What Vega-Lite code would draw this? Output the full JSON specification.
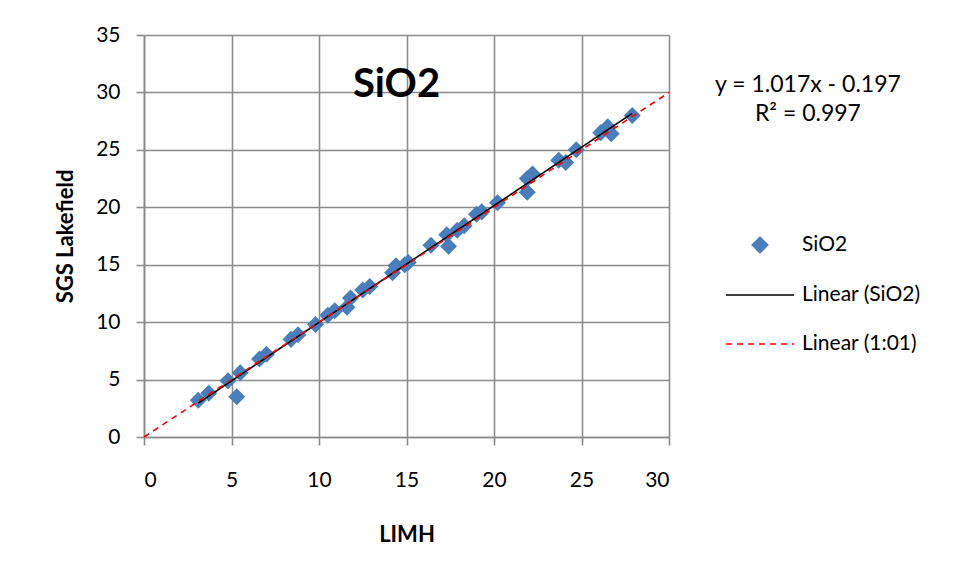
{
  "$schema": "https://vega.github.io/schema/vega-lite/v6.json",
  "width": 525,
  "height": 402,
  "autosize": {"type": "none"},
  "padding": {"left": 144, "top": 35, "right": 287, "bottom": 140},
  "background": "white",
  "datasets": {
    "samples": [
      {"limh": 3.1, "sgs": 3.2}, {"limh": 3.7, "sgs": 3.8}, {"limh": 4.8, "sgs": 4.9},
      {"limh": 5.5, "sgs": 5.6}, {"limh": 5.3, "sgs": 3.5}, {"limh": 6.6, "sgs": 6.8},
      {"limh": 7.0, "sgs": 7.2}, {"limh": 8.4, "sgs": 8.5}, {"limh": 8.8, "sgs": 8.9},
      {"limh": 9.8, "sgs": 9.8}, {"limh": 10.5, "sgs": 10.6}, {"limh": 10.9, "sgs": 11.0},
      {"limh": 11.6, "sgs": 11.3}, {"limh": 11.8, "sgs": 12.1}, {"limh": 12.5, "sgs": 12.8},
      {"limh": 12.9, "sgs": 13.1}, {"limh": 14.2, "sgs": 14.3}, {"limh": 14.4, "sgs": 14.9},
      {"limh": 14.9, "sgs": 15.0}, {"limh": 15.1, "sgs": 15.2}, {"limh": 16.4, "sgs": 16.7},
      {"limh": 17.3, "sgs": 17.6}, {"limh": 17.4, "sgs": 16.6}, {"limh": 17.9, "sgs": 18.0},
      {"limh": 18.3, "sgs": 18.4}, {"limh": 19.0, "sgs": 19.4}, {"limh": 19.3, "sgs": 19.6},
      {"limh": 20.2, "sgs": 20.4}, {"limh": 21.9, "sgs": 22.5}, {"limh": 21.9, "sgs": 21.3},
      {"limh": 22.2, "sgs": 22.9}, {"limh": 23.7, "sgs": 24.1}, {"limh": 24.1, "sgs": 23.9},
      {"limh": 24.7, "sgs": 25.0}, {"limh": 26.1, "sgs": 26.5}, {"limh": 26.5, "sgs": 27.0},
      {"limh": 26.7, "sgs": 26.4}, {"limh": 27.9, "sgs": 28.0}
    ],
    "fit": [
      {"limh": 3.1, "sgs": 2.956},
      {"limh": 27.9, "sgs": 28.177}
    ],
    "oneToOne": [
      {"limh": 0, "sgs": 0},
      {"limh": 30, "sgs": 30}
    ]
  },
  "config": {
    "font": "Lato",
    "view": {"stroke": null},
    "axis": {
      "grid": true,
      "gridColor": "#8c8c8c",
      "gridWidth": 1.6,
      "domainColor": "#8c8c8c",
      "domainWidth": 1.6,
      "tickColor": "#8c8c8c",
      "tickSize": 8,
      "tickWidth": 1.6,
      "labelFont": "Lato",
      "labelFontSize": 21,
      "labelColor": "black",
      "titleFont": "Lato",
      "titleFontSize": 22,
      "titleFontWeight": "bold",
      "titleColor": "black"
    },
    "legend": {
      "orient": "none",
      "legendX": 581,
      "legendY": 175,
      "title": null,
      "labelFont": "Lato",
      "labelFontSize": 21,
      "labelColor": "black",
      "labelOffset": 7,
      "symbolSize": 4624,
      "symbolType": "stroke",
      "rowPadding": 4
    }
  },
  "layer": [
    {
      "data": {"name": "samples"},
      "mark": {"type": "point", "shape": "diamond", "filled": true, "size": 290, "opacity": 1},
      "encoding": {
        "x": {
          "field": "limh", "type": "quantitative", "title": "LIMH",
          "scale": {"domain": [0, 30], "nice": false, "zero": true},
          "axis": {"values": [0, 5, 10, 15, 20, 25, 30], "labelPadding": 24, "titlePadding": 34}
        },
        "y": {
          "field": "sgs", "type": "quantitative", "title": "SGS Lakefield",
          "scale": {"domain": [0, 35], "nice": false, "zero": true},
          "axis": {"values": [0, 5, 10, 15, 20, 25, 30, 35], "labelPadding": 16, "titlePadding": 18}
        },
        "color": {
          "datum": "SiO2",
          "type": "nominal",
          "scale": {
            "domain": ["SiO2", "Linear (SiO2)", "Linear (1:01)"],
            "range": ["#4a7ebb", "black", "red"]
          },
          "legend": {
            "encode": {
              "symbols": {
                "update": {
                  "shape": {"signal": "datum.value === 'SiO2' ? 'diamond' : 'stroke'"},
                  "size": {"signal": "datum.value === 'SiO2' ? 240 : 4624"},
                  "fill": {"signal": "datum.value === 'SiO2' ? '#4a7ebb' : 'transparent'"},
                  "stroke": {"signal": "datum.value === 'SiO2' ? 'transparent' : (datum.value === 'Linear (SiO2)' ? 'black' : 'red')"},
                  "strokeDash": {"signal": "datum.value === 'Linear (1:01)' ? [6, 5] : [1, 0]"},
                  "strokeWidth": {"value": 1.6},
                  "opacity": {"value": 1}
                }
              }
            }
          }
        }
      }
    },
    {
      "data": {"name": "fit"},
      "mark": {"type": "line", "strokeWidth": 1.6},
      "encoding": {
        "x": {"field": "limh", "type": "quantitative"},
        "y": {"field": "sgs", "type": "quantitative"},
        "color": {
          "datum": "Linear (SiO2)", "type": "nominal",
          "legend": {
            "encode": {
              "symbols": {
                "update": {
                  "shape": {"signal": "datum.value === 'SiO2' ? 'diamond' : 'stroke'"},
                  "size": {"signal": "datum.value === 'SiO2' ? 240 : 4624"},
                  "fill": {"signal": "datum.value === 'SiO2' ? '#4a7ebb' : 'transparent'"},
                  "stroke": {"signal": "datum.value === 'SiO2' ? 'transparent' : (datum.value === 'Linear (SiO2)' ? 'black' : 'red')"},
                  "strokeDash": {"signal": "datum.value === 'Linear (1:01)' ? [6, 5] : [1, 0]"},
                  "strokeWidth": {"value": 1.6},
                  "opacity": {"value": 1}
                }
              }
            }
          }
        }
      }
    },
    {
      "data": {"name": "oneToOne"},
      "mark": {"type": "line", "strokeWidth": 1.6, "strokeDash": [6, 5]},
      "encoding": {
        "x": {"field": "limh", "type": "quantitative"},
        "y": {"field": "sgs", "type": "quantitative"},
        "color": {
          "datum": "Linear (1:01)", "type": "nominal",
          "legend": {
            "encode": {
              "symbols": {
                "update": {
                  "shape": {"signal": "datum.value === 'SiO2' ? 'diamond' : 'stroke'"},
                  "size": {"signal": "datum.value === 'SiO2' ? 240 : 4624"},
                  "fill": {"signal": "datum.value === 'SiO2' ? '#4a7ebb' : 'transparent'"},
                  "stroke": {"signal": "datum.value === 'SiO2' ? 'transparent' : (datum.value === 'Linear (SiO2)' ? 'black' : 'red')"},
                  "strokeDash": {"signal": "datum.value === 'Linear (1:01)' ? [6, 5] : [1, 0]"},
                  "strokeWidth": {"value": 1.6},
                  "opacity": {"value": 1}
                }
              }
            }
          }
        }
      }
    },
    {
      "data": {"values": [{"label": "SiO2", "limh": 14.43, "sgs": 29.6}]},
      "mark": {"type": "text", "font": "Lato", "fontSize": 40, "fontWeight": "bold", "align": "center", "baseline": "alphabetic", "color": "black"},
      "encoding": {
        "x": {"field": "limh", "type": "quantitative"},
        "y": {"field": "sgs", "type": "quantitative"},
        "text": {"field": "label"}
      }
    },
    {
      "data": {"values": [
        {"label": "y = 1.017x - 0.197", "limh": 37.94, "sgs": 30.63},
        {"label": "R² = 0.997", "limh": 37.94, "sgs": 28.1}
      ]},
      "mark": {"type": "text", "font": "Lato", "fontSize": 23, "align": "center", "baseline": "middle", "color": "black"},
      "encoding": {
        "x": {"field": "limh", "type": "quantitative"},
        "y": {"field": "sgs", "type": "quantitative"},
        "text": {"field": "label"}
      }
    }
  ]
}
